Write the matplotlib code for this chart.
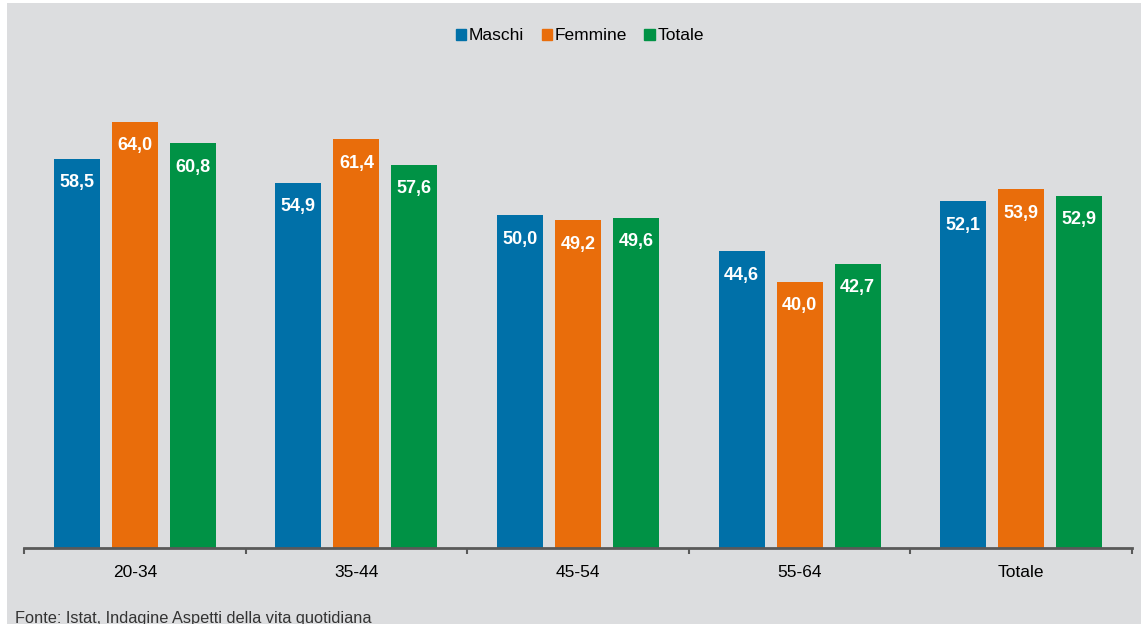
import matplotlib.pyplot as plt
import matplotlib.patches as mpatches
import numpy as np

# data
categories = ["20-34", "35-44", "45-54", "55-64", "Totale"]
maschi = [58.5, 54.9, 50.0, 44.6, 52.1]
femmine = [64.0, 61.4, 49.2, 40.0, 53.9]
totale = [60.8, 57.6, 49.6, 42.7, 52.9]
series_names = ["Maschi", "Femmine", "Totale"]
colors = ["#0070a8", "#e96d0b", "#009245"]
source = "Fonte: Istat, Indagine Aspetti della vita quotidiana"

plt.rcParams['font.family'] = ['Liberation Sans', 'DejaVu Sans']

W, H = 1147, 624
fig = plt.figure(figsize=(W / 100, H / 100), dpi=100)
fig.patch.set_facecolor('white')

# grey panel behind everything
fig.patches.append(mpatches.Rectangle((7 / W, 0), (1141 - 7) / W, 1 - 3 / H,
                                      transform=fig.transFigure, facecolor='#dcdddf',
                                      edgecolor='none', zorder=-10))

ax = fig.add_axes([24 / W, 1 - 548 / H, (1132 - 24) / W, (548 - 62) / H])
ax.set_facecolor('none')

x = np.arange(len(categories))
bw = 46 / 221.6
step = 58 / 221.6
for i, (vals, name) in enumerate(zip([maschi, femmine, totale], series_names)):
    bars = ax.bar(x + (i - 1) * step, vals, width=bw, color=colors[i], label=name,
                  edgecolor='none', zorder=2)
    for b, v in zip(bars, vals):
        ax.annotate(f"{v:.1f}".replace('.', ','), (b.get_x() + b.get_width() / 2, v),
                    xytext=(0, -24), textcoords='offset pixels',
                    ha='center', va='center', color='white', fontsize=13,
                    fontweight='bold', zorder=3)

ax.set_xlim(-0.5, len(categories) - 0.5)
ax.set_ylim(0, 73)
ax.set_yticks([])
for s in ['top', 'right', 'left']:
    ax.spines[s].set_visible(False)
ax.spines['bottom'].set_color('#595959')
ax.spines['bottom'].set_linewidth(2)

ax.set_xticks(x)
ax.set_xticklabels(categories, fontsize=12.5)
ax.tick_params(axis='x', which='major', length=0, pad=12)
ax.set_xticks(np.arange(len(categories) + 1) - 0.5, minor=True)
ax.tick_params(axis='x', which='minor', length=4, width=1.5, color='#595959')

handles = [mpatches.Patch(color=c) for c in colors]
fig.legend(handles, series_names, loc='center', bbox_to_anchor=(580 / W, 1 - 36 / H),
           ncol=3, frameon=False, fontsize=12.5, handlelength=0.6, handleheight=0.6,
           handletextpad=0.15, columnspacing=1.0)

fig.text(15 / W, 1 - 618 / H, source, fontsize=11.8, va='center', ha='left',
         color='#333333')

fig.savefig('out.png', dpi=100, facecolor=fig.get_facecolor())
